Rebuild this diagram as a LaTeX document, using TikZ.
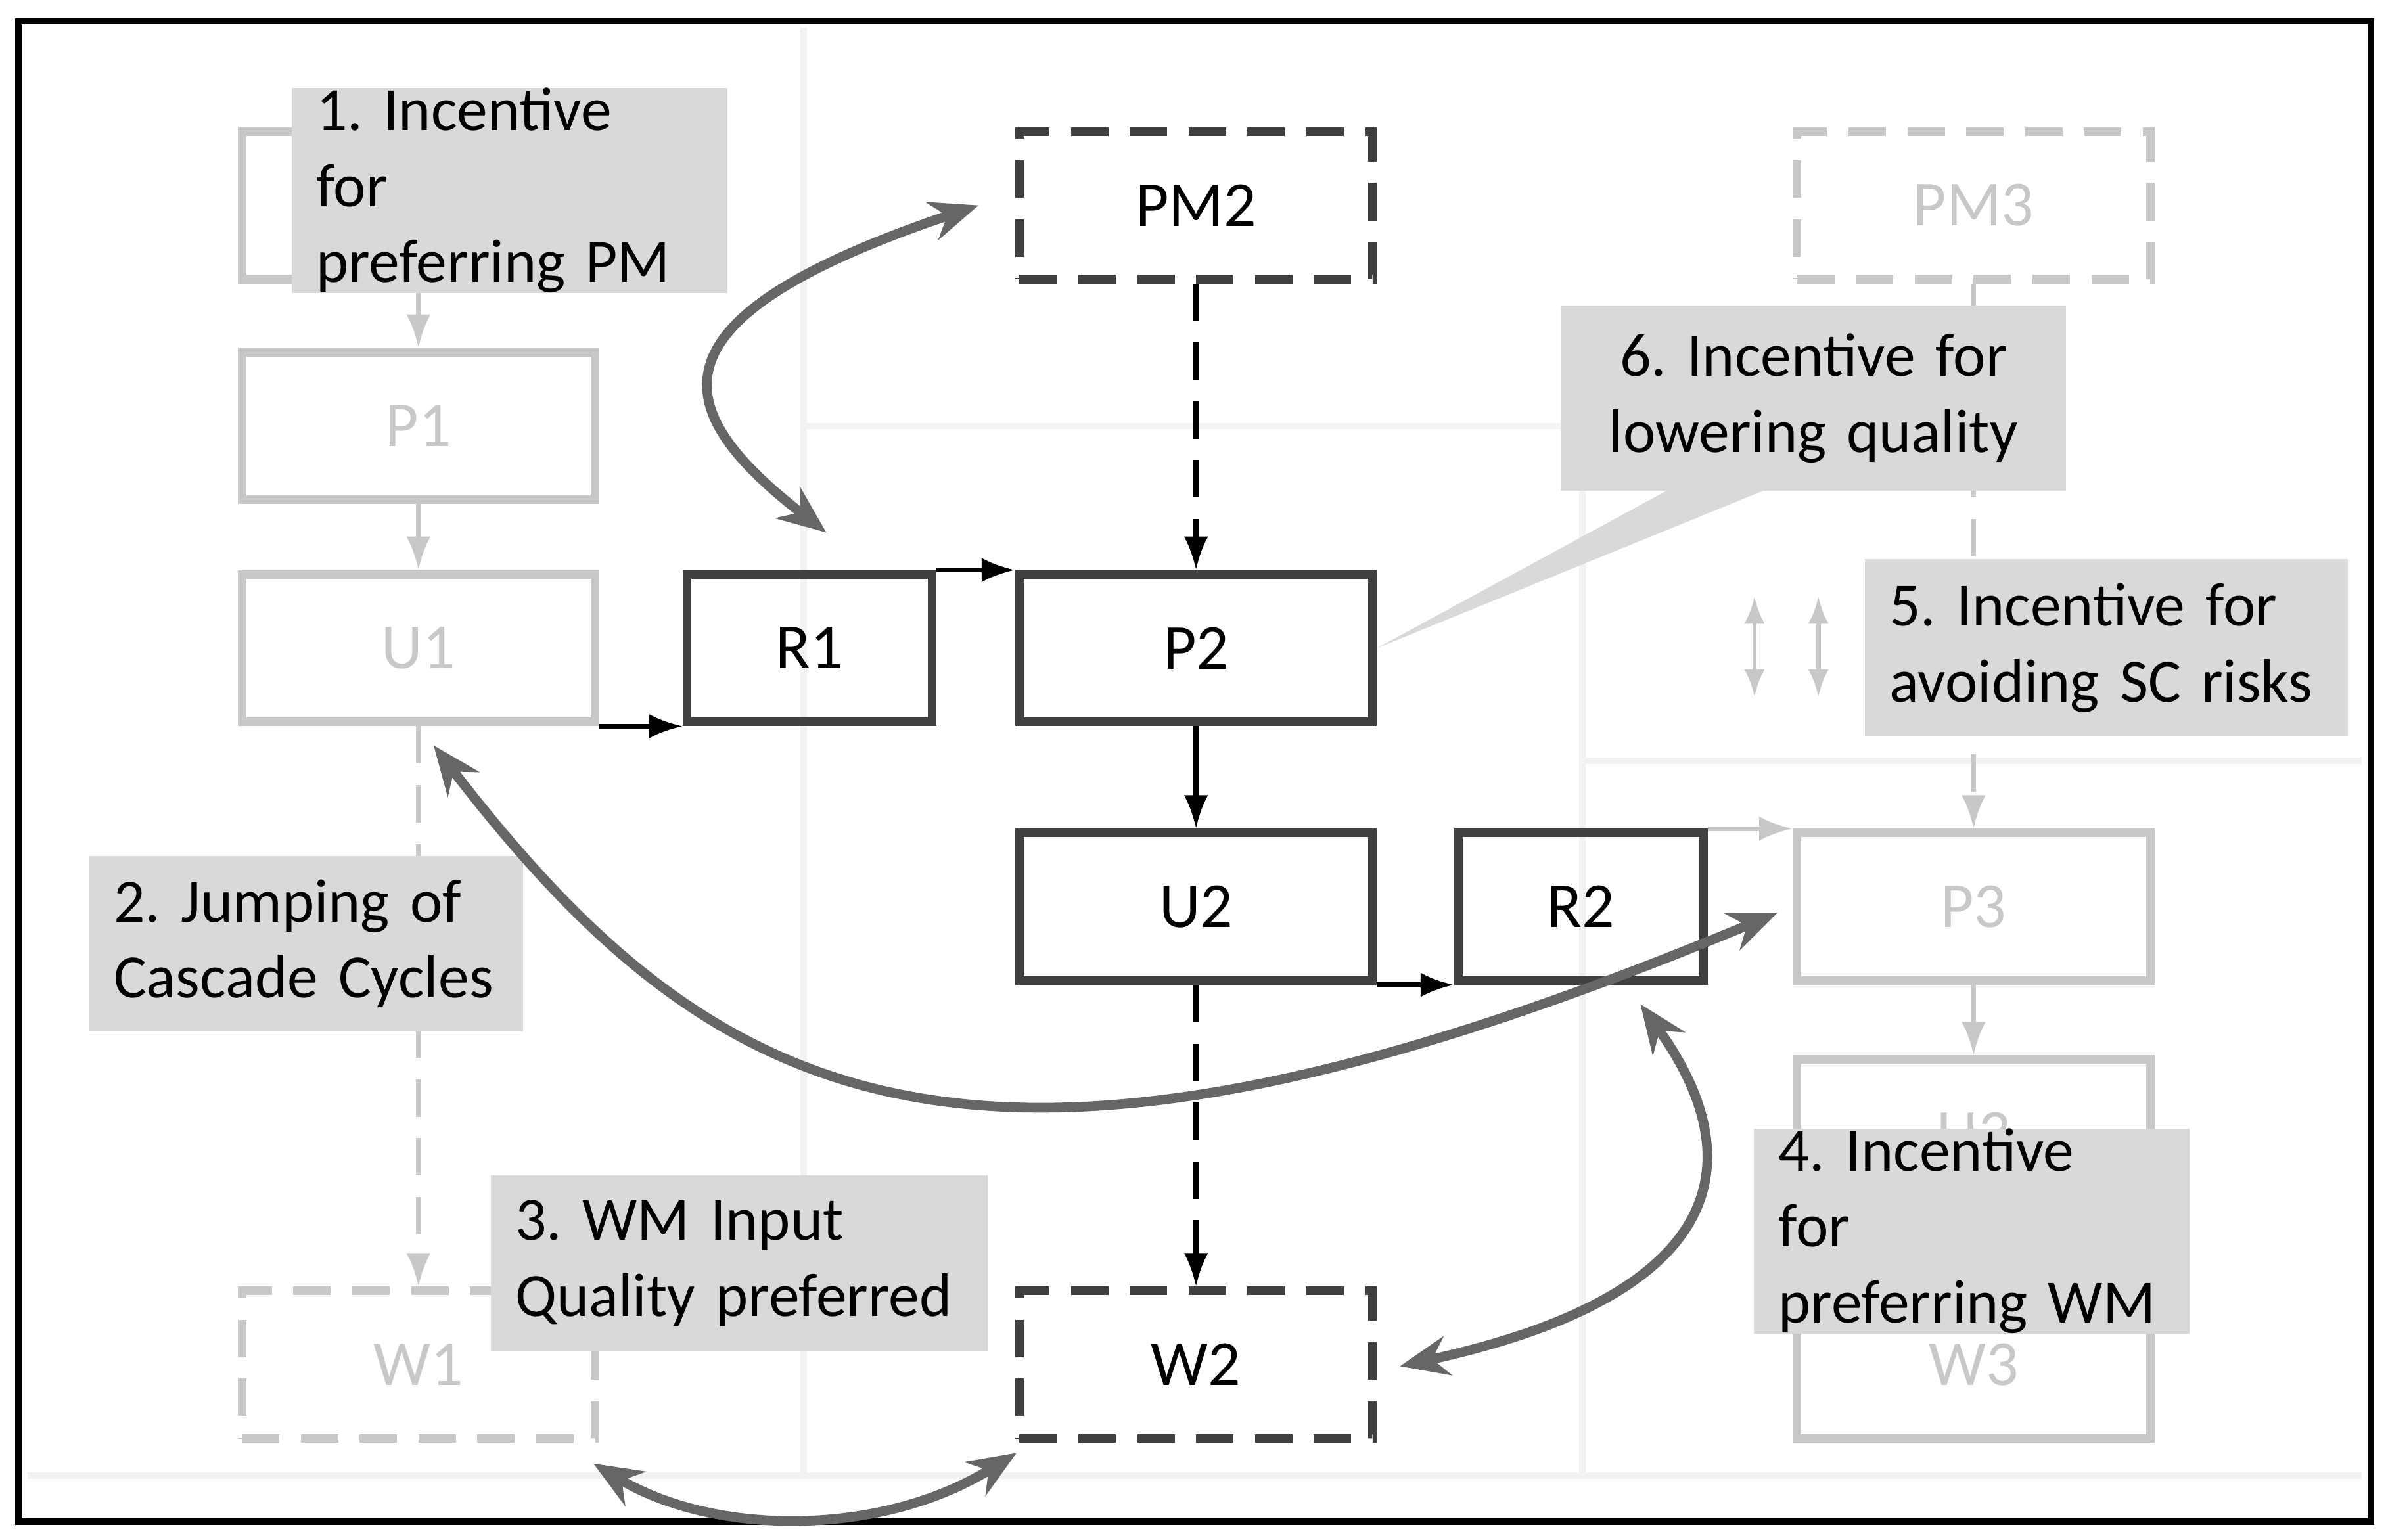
\documentclass[tikz,border=0pt]{standalone}
\usepackage{fontspec}
\setmainfont{Carlito}
\frenchspacing
\usetikzlibrary{arrows.meta,positioning,calc}
\definecolor{faint}{HTML}{C8C8C8}
\definecolor{panel}{HTML}{F2F2F2}
\definecolor{dark}{HTML}{404040}
\definecolor{curve}{HTML}{666666}
\definecolor{note}{HTML}{D9D9D9}
\tikzstyle{block} = [draw=dark, line width=1.6pt, rectangle, minimum height=0.97cm, minimum width=2.32cm, font=\fontsize{12}{14}\selectfont]
\tikzstyle{small} = [minimum width=1.61cm]
\tikzstyle{ghost} = [block, draw=faint, text=faint]
\tikzstyle{longdash} = [dash pattern=on 7pt off 4pt]
\tikzstyle{label} = [fill=note, inner xsep=1.6mm, inner ysep=0pt, align=left, anchor=north west, font=\fontsize{11.5}{14.2}\selectfont]
\tikzstyle{arrow} = [-{Latex[length=2.2mm,width=1.6mm]}, line width=0.9pt]
\tikzstyle{swing} = [{Stealth[length=3.2mm,width=2.6mm]}-{Stealth[length=3.2mm,width=2.6mm]}, curve, line width=1.8pt]
\begin{document}
\begin{tikzpicture}[x=0.01cm,y=-0.01cm]
	\useasboundingbox (0,0) rectangle (1568,1012);
	\draw[black, line width=1.2pt] (12,14) rectangle (1558,1000);
	
	% Background panels
	\draw[panel, line width=1.2pt] (18,970) -- (1552,970);
	\draw[panel, line width=1.2pt] (528,18) -- (528,970);
	\draw[panel, line width=1.2pt] (528,280) -- (1040,280) -- (1040,970);
	\draw[panel, line width=1.2pt] (1040,500) -- (1552,500);
	
	% Faint chains
	\node[ghost] (pm1) at (275,135) {PM1};
	\node[ghost] (p1) at (275,280) {P1};
	\node[ghost] (u1) at (275,426) {U1};
	\node[ghost, longdash] (w1) at (275,897) {W1};
	\node[ghost, longdash] (pm3) at (1297,135) {PM3};
	\node[ghost] (p3) at (1297,596) {P3};
	\node[ghost] (u3) at (1297,745) {U3};
	\node[ghost] (w3) at (1297,897) {W3};
	\draw[arrow, faint] (pm1) -- (p1);
	\draw[arrow, faint] (p1) -- (u1);
	\draw[arrow, faint, longdash] (u1) -- (w1);
	\draw[arrow, faint, longdash] (pm3) -- (p3);
	\draw[arrow, faint] (p3) -- (u3);
	\coordinate (da1) at (1153,392); \coordinate (db1) at (1153,458);
	\coordinate (da2) at (1195,392); \coordinate (db2) at (1195,458);
	\draw[{Latex[length=1.8mm]}-{Latex[length=1.8mm]}, faint, line width=0.8pt] (da1) -- (db1);
	\draw[{Latex[length=1.8mm]}-{Latex[length=1.8mm]}, faint, line width=0.8pt] (da2) -- (db2);
	
	% Main chain
	\node[block, longdash] (pm2) at (786,135) {PM2};
	\node[block, small] (r1) at (532,426) {R1};
	\node[block] (p2) at (786,426) {P2};
	\node[block] (u2) at (786,596) {U2};
	\node[block, small] (r2) at (1039,596) {R2};
	\node[block, longdash] (w2) at (786,897) {W2};
	\draw[arrow] (u1.south east) -- (r1.south west);
	\draw[arrow] (r1.north east) -- (p2.north west);
	\draw[arrow, longdash] (pm2) -- (p2);
	\draw[arrow] (p2) -- (u2);
	\draw[arrow] (u2.south east) -- (r2.south west);
	\draw[arrow, longdash] (u2) -- (w2);
	\draw[arrow, faint] (r2.north east) -- (p3.north west);
	
	% Labels
	\node[label, text width=2.54cm, minimum height=1.15cm] (n1) at (191,57) {1. Incentive for\\preferring PM};
	\node[label, text width=2.53cm, minimum height=1.15cm] (n2) at (58,562) {2. Jumping of\\Cascade Cycles};
	\node[label, text width=2.94cm, minimum height=1.15cm] (n3) at (322,772) {3. WM Input\\Quality preferred};
	\node[label, text width=2.54cm, minimum height=1.15cm] (n4) at (1152,741) {4. Incentive for\\preferring WM};
	\node[label, text width=2.85cm, minimum height=1.16cm] (n5) at (1225,367) {5. Incentive for\\avoiding SC risks};
	\coordinate (c6a) at (1100,320); \coordinate (c6b) at (1165,320);
	\fill[note] (c6a) -- (p2.east) -- (c6b) -- cycle;
	\node[label, align=center, text width=3.0cm, minimum height=1.22cm] (n6) at (1025,200) {6. Incentive for\\lowering quality};
	
	% Curved links
	\coordinate (a1) at (643,135); \coordinate (b1) at (543,350);
	\draw[swing] (a1) .. controls (420,210) and (440,270) .. (b1);
	\coordinate (a2) at (285,490); \coordinate (b2) at (1168,600);
	\draw[swing] (a2) .. controls (470,730) and (640,820) .. (b2);
	\coordinate (a3) at (1078,660); \coordinate (b3) at (920,898);
	\draw[swing] (a3) .. controls (1150,760) and (1140,850) .. (b3);
	\coordinate (a4) at (390,962); \coordinate (b4) at (668,955);
	\draw[swing] (a4) .. controls (470,1010) and (580,1010) .. (b4);
\end{tikzpicture}
\end{document}
